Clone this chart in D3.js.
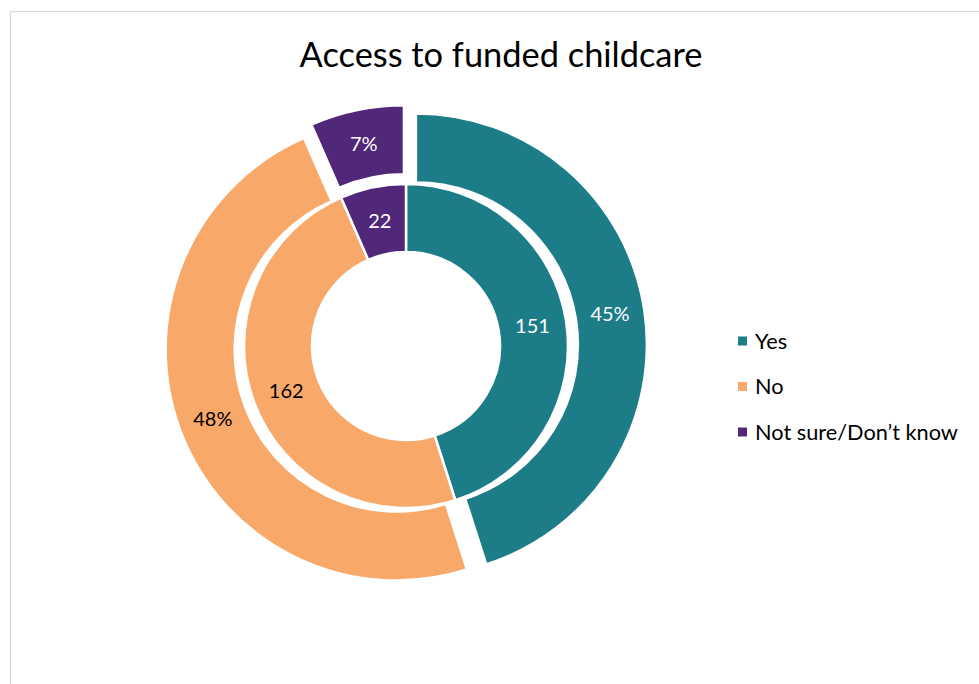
<!DOCTYPE html>
<html>
<head>
<meta charset="utf-8">
<script src="https://cdn.jsdelivr.net/npm/d3@7"></script>
<style>
  html, body { margin: 0; padding: 0; background: #ffffff; }
  svg { display: block; }
  text { font-family: Lato, "Open Sans", sans-serif; }
</style>
</head>
<body>
<svg id="chart" width="979" height="684"></svg>
<script>
// Survey responses: access to funded childcare
const categories = ["Yes", "No", "Not sure/Don\u2019t know"];
const counts = [151, 162, 22];
const percentLabels = ["45%", "48%", "7%"];
const colors = ["#1c7c88", "#f8a96a", "#502779"];
const title = "Access to funded childcare";

const svg = d3.select("#chart");

// chart frame
svg.append("rect")
  .attr("x", 10.5).attr("y", 11.5)
  .attr("width", 1200).attr("height", 1200)
  .attr("fill", "#ffffff")
  .attr("stroke", "#d9d9d9").attr("stroke-width", 1.3);

// shrink or grow a text node's font so it spans a given width
function fitWidth(sel, base, width) {
  sel.style("font-size", base + "px");
  const w = sel.node().getComputedTextLength();
  sel.style("font-size", (base * width / w) + "px");
  return base * width / w;
}

// title
const titleText = svg.append("text")
  .attr("x", 501).attr("y", 67)
  .attr("text-anchor", "middle")
  .attr("fill", "#000000")
  .text(title);
fitWidth(titleText, 32, 403);

const cx = 406, cy = 346;
const rHole = 94, rMid = 162, rOuter = 231, explode = 10;
const labelSize = 20;

const pie = d3.pie().sort(null).value(d => d).startAngle(0).endAngle(2 * Math.PI);
const arcs = pie(counts);

const innerArc = d3.arc().innerRadius(rHole).outerRadius(rMid);
const outerArc = d3.arc().innerRadius(rMid).outerRadius(rOuter);

const g = svg.append("g").attr("transform", `translate(${cx},${cy})`);

// inner ring: counts
const inner = g.append("g");
inner.selectAll("path").data(arcs).join("path")
  .attr("d", innerArc)
  .attr("fill", (d, i) => colors[i])
  .attr("stroke", "#ffffff").attr("stroke-width", 2.5);

inner.selectAll("text").data(arcs).join("text")
  .attr("transform", d => `translate(${innerArc.centroid(d)})`)
  .attr("text-anchor", "middle")
  .attr("dy", "0.36em")
  .style("font-size", labelSize + "px")
  .attr("fill", (d, i) => i === 1 ? "#000000" : "#ffffff")
  .text(d => d.value);

// outer ring: percentages, segments pulled outward
const mid = d => (d.startAngle + d.endAngle) / 2;
const offset = d => [explode * Math.sin(mid(d)), -explode * Math.cos(mid(d))];

const outer = g.append("g");
const seg = outer.selectAll("g").data(arcs).join("g")
  .attr("transform", d => `translate(${offset(d)})`);
seg.append("path")
  .attr("d", outerArc)
  .attr("fill", (d, i) => colors[i])
  .attr("stroke", "#ffffff").attr("stroke-width", 2.5);
seg.append("text")
  .attr("transform", d => `translate(${outerArc.centroid(d)})`)
  .attr("text-anchor", "middle")
  .attr("dy", "0.36em")
  .style("font-size", labelSize + "px")
  .attr("fill", (d, i) => i === 1 ? "#000000" : "#ffffff")
  .text((d, i) => percentLabels[i]);

// legend
const legendY = d3.scalePoint().domain(categories).range([341, 432]);
const legend = svg.append("g");
const item = legend.selectAll("g").data(categories).join("g")
  .attr("transform", d => `translate(738,${legendY(d)})`);
item.append("rect")
  .attr("x", 0).attr("y", -4.5)
  .attr("width", 9).attr("height", 9)
  .attr("fill", (d, i) => colors[i]);
const legendText = item.append("text")
  .attr("x", 17).attr("dy", "0.36em")
  .attr("fill", "#000000")
  .text(d => d);
// size legend type so the longest entry spans its width
const longest = legendText.filter((d, i) => i === categories.length - 1);
const legendSize = fitWidth(longest, 19, 203);
legendText.style("font-size", legendSize + "px");
</script>
</body>
</html>
